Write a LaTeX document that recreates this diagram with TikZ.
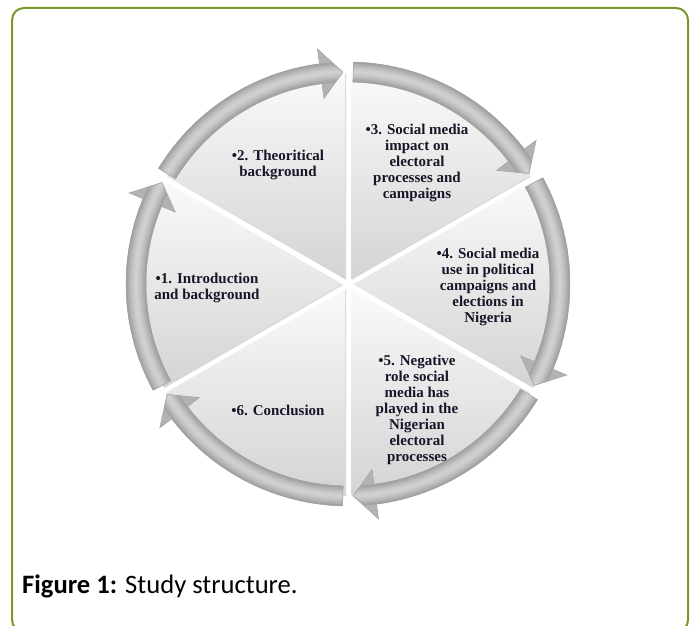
\documentclass[tikz,border=0pt]{standalone}
\usepackage{fontspec}
\setmainfont{Liberation Serif}
\newfontfamily\capfont{Carlito}
\usetikzlibrary{calc, shadows}

\definecolor{framegreen}{RGB}{120,154,42}
\definecolor{stagetextcol}{RGB}{22,22,40}

% arrow on the ring: tail angle, head base angle, tip angle
\newcommand{\ringarrow}[3]{(#1:202) arc[start angle=#1, end angle=#2, radius=202pt]
  -- (#2:187) -- (#3:212) -- (#2:237) -- (#2:222)
  arc[start angle=#2, end angle=#1, radius=222pt] -- cycle}

\begin{document}
\begin{tikzpicture} [
    x=1pt, y=1pt,
    sector/.style={top color=gray!4, bottom color=gray!34,
      drop shadow={opacity=0.3, shadow xshift=1pt, shadow yshift=-1pt}},
    stagetext/.style={align=center, text=stagetextcol, inner sep=1pt,
      font=\bfseries\fontsize{15}{16}\selectfont}
  ]
  \useasboundingbox (0,0) rectangle (691,626);

  % Frame
  \draw[framegreen, line width=2pt, rounded corners=12pt] (12,-6) rectangle (688,618);

  \begin{scope}[shift={(348,342)}]
    % Sectors
    \foreach \m in {0,60,...,300}
      \path[sector] (\m:6) -- ++(\m+30:206)
        arc[start angle=\m+30, end angle=\m-30, radius=206pt] -- cycle;

    % Ring arrows, tube look from stacked strokes
    \foreach \t [evaluate=\t as \T using \t-1.4,
                 evaluate=\t as \H using \t-52.6,
                 evaluate=\t as \P using \t-58.6] in {150,90,30,-30,-90,-150} {
      \begin{scope}
        \clip \ringarrow{\T}{\H}{\P};
        \foreach \lw/\tone in {60/60, 20/74, 17/66, 14/58, 11/51, 8/45, 5/40, 2/36}
          \draw[gray!\tone, line width=\lw pt] (0,0) circle (212pt);
      \end{scope}
      \draw[gray!72, line width=0.5pt] \ringarrow{\T}{\H}{\P};
    }
  \end{scope}

  % Stage labels
  \node[stagetext] (S1) at (207,338) {•1. Introduction\\and background};
  \node[stagetext] (S2) at (278,461) {•2. Theoritical\\background};
  \node[stagetext] (S3) at (417,463) {•3. Social media\\impact on\\electoral\\processes and\\campaigns};
  \node[stagetext] (S4) at (488,339) {•4. Social media\\use in political\\campaigns and\\elections in\\Nigeria};
  \node[stagetext] (S5) at (417,216) {•5. Negative\\role social\\media has\\played in the\\Nigerian\\electoral\\processes};
  \node[stagetext] (S6) at (278,216) {•6. Conclusion};

  % Caption
  \node[anchor=base west, inner sep=0pt, font=\capfont\fontsize{26.6}{30}\selectfont]
    (CAPTION) at (22,32) {\textbf{Figure 1:} Study structure.};
\end{tikzpicture}
\end{document}
